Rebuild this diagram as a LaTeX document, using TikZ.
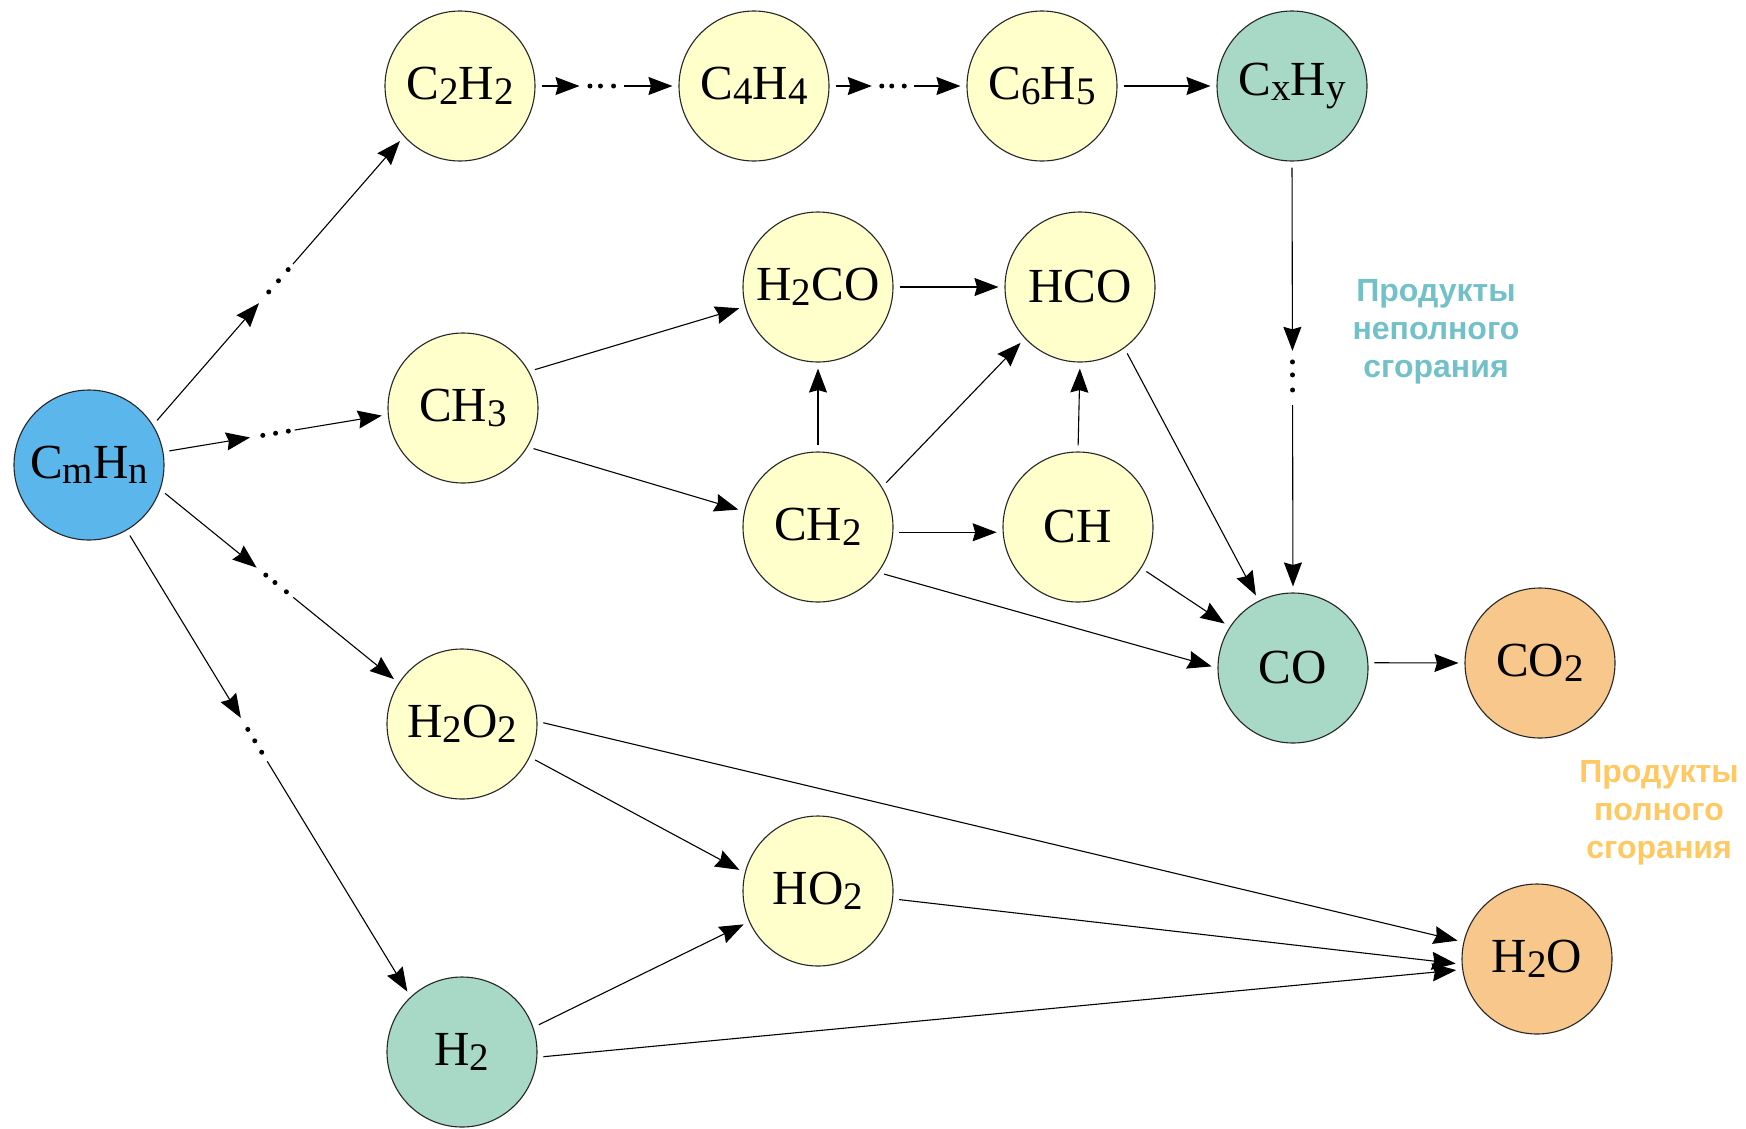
\documentclass[tikz,border=0pt]{standalone}
\usepackage{fontspec}
\setmainfont{Liberation Serif}
\newfontfamily\labfont{Liberation Sans}
\usetikzlibrary{arrows.meta,calc}
\definecolor{cyel}{HTML}{FFFFCC}
\definecolor{cblue}{HTML}{5BB6EC}
\definecolor{cteal}{HTML}{A7D9C6}
\definecolor{corange}{HTML}{F8C78B}
\definecolor{tteal}{HTML}{72C1C9}
\definecolor{torange}{HTML}{FFC862}
\newcommand\lo[1]{\raisebox{-5pt}{\fontsize{39}{39}\selectfont #1}}
\newcommand\dotconn[7]{%
  \coordinate (dcA) at ($(#1)!6pt!(#2)$);
  \coordinate (dcB) at ($(#2)!6pt!(#1)$);
  \draw[conn] (dcA) -- ($(dcA)!#3!(dcB)$);
  \foreach \t in {#4,#5,#6} \fill ($(dcA)!\t!(dcB)$) circle (2.5pt);
  \draw[conn] ($(dcA)!#7!(dcB)$) -- (dcB);
}
\tikzset{
  mol/.style={circle, draw=black!85, line width=1.1pt, minimum size=150pt, inner sep=0pt,
    font=\fontsize{49}{49}\selectfont},
  yel/.style={mol, fill=cyel},
  blu/.style={mol, fill=cblue},
  tea/.style={mol, fill=cteal},
  ora/.style={mol, fill=corange},
  conn/.style={line width=1.1pt, -{Stealth[length=24pt,width=18pt,inset=2.5pt]}},
  gap/.style={shorten <=6pt, shorten >=6pt},
  lab/.style={align=center, font=\labfont\bfseries\fontsize{32}{38}\selectfont}
}
\begin{document}
\begin{tikzpicture}[x=1pt,y=-1pt]
\useasboundingbox (0,0) rectangle (1746,1128);
\fill[white] (0,0) rectangle (1746,1128);

\node[blu] (cmhn) at (89,465) {C\lo{m}H\lo{n}};
\node[yel] (c2h2) at (460,86) {C\lo{2}H\lo{2}};
\node[yel] (c4h4) at (754,86) {C\lo{4}H\lo{4}};
\node[yel] (c6h5) at (1042,86) {C\lo{6}H\lo{5}};
\node[tea] (cxhy) at (1292,86) {C\lo{x}H\lo{y}};
\node[yel] (h2co) at (818,287) {H\lo{2}CO};
\node[yel] (hco) at (1080,287) {HCO};
\node[yel] (ch3) at (463,408) {CH\lo{3}};
\node[yel] (ch2) at (818,527) {CH\lo{2}};
\node[yel] (ch) at (1078,527) {CH};
\node[tea] (co) at (1293,668) {CO};
\node[ora] (co2) at (1540,663) {CO\lo{2}};
\node[yel] (h2o2) at (462,724) {H\lo{2}O\lo{2}};
\node[yel] (ho2) at (818,891) {HO\lo{2}};
\node[ora] (h2o) at (1537,959) {H\lo{2}O};
\node[tea] (h2) at (462,1052) {H\lo{2}};

\node[lab, text=tteal] (l1) at (1436,332) {Продукты\\неполного\\сгорания};
\node[lab, text=torange] (l2) at (1659,813) {Продукты\\полного\\сгорания};

% dotted connectors
\dotconn{cmhn.32}{c2h2.222}{0.42}{0.46}{0.50}{0.54}{0.56}
\dotconn{cmhn.10}{ch3.185}{0.38}{0.44}{0.50}{0.56}{0.59}
\dotconn{cmhn.-19}{h2o2.147}{0.40}{0.44}{0.48}{0.53}{0.56}
\dotconn{cmhn.-60}{h2.133}{0.40}{0.425}{0.45}{0.475}{0.495}
\dotconn{c2h2.0}{c4h4.180}{0.29}{0.37}{0.45}{0.55}{0.63}
\dotconn{c4h4.0}{c6h5.180}{0.29}{0.37}{0.45}{0.55}{0.63}
\dotconn{cxhy.-90}{co.90}{0.4375}{0.464}{0.495}{0.531}{0.567}

% plain connectors
\draw[conn, gap] (c6h5.0) -- (cxhy.180);
\draw[conn, gap] (ch3.29) -- (h2co.195);
\draw[conn, gap] (ch3.-31) -- (ch2.168);
\draw[conn, gap] (h2co.0) -- (hco.180);
\draw[conn, gap] (ch2.90) -- (h2co.270);
\draw[conn, gap] (ch2.32) -- (hco.223);
\draw[conn, gap] (ch2.-4) -- (ch.184);
\draw[conn, gap] (ch.90) -- (hco.270);
\draw[conn, gap] (hco.-54) -- (co.117);
\draw[conn, gap] (ch.-33) -- (co.147);
\draw[conn, gap] (ch2.-37) -- (co.180);
\draw[conn, gap] (co.4) -- (co2.180);
\draw[conn, gap] (h2o2.2) -- (h2o.167);
\draw[conn, gap] (h2o2.-26) -- (ho2.166);
\draw[conn, gap] (ho2.-6) -- (h2o.184);
\draw[conn, gap] (h2.19) -- (ho2.204);
\draw[conn, gap] (h2.-4) -- (h2o.188);
\end{tikzpicture}
\end{document}
